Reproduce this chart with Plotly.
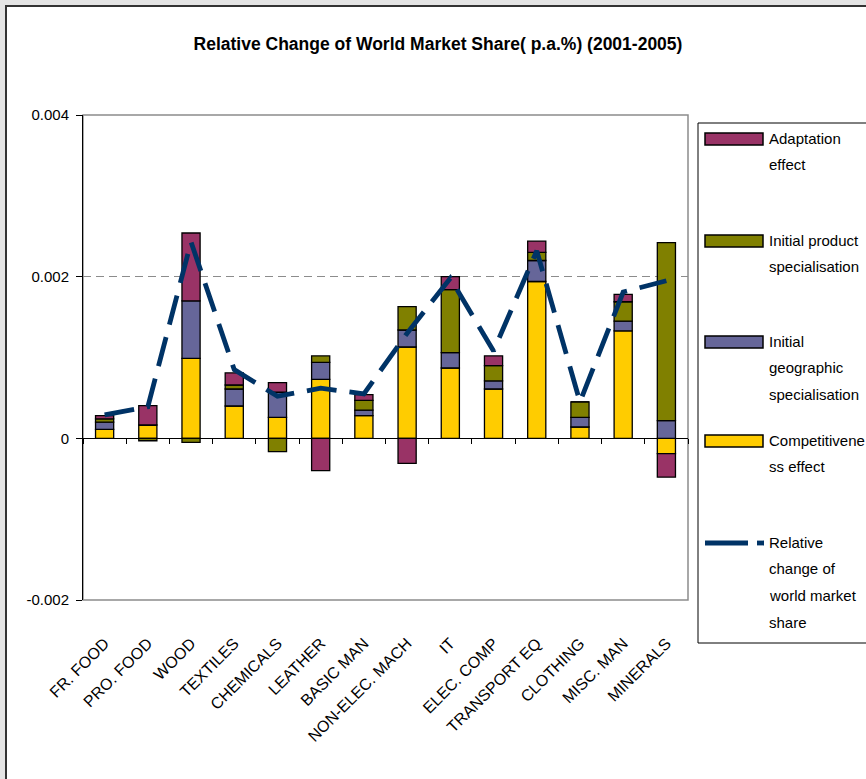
import plotly.graph_objects as go

categories = ["FR. FOOD", "PRO. FOOD", "WOOD", "TEXTILES", "CHEMICALS", "LEATHER",
              "BASIC MAN", "NON-ELEC. MACH", "IT", "ELEC. COMP", "TRANSPORT EQ",
              "CLOTHING", "MISC. MAN", "MINERALS"]

competitiveness = [0.00011, 0.000165, 0.00099, 0.00040, 0.00026, 0.00073, 0.00028,
                   0.00113, 0.00087, 0.00061, 0.00194, 0.00014, 0.00133, -0.00019]
geographic = [0.00009, 0.0, 0.00071, 0.00021, 0.00031, 0.00021, 0.00007,
              0.00021, 0.00019, 0.00010, 0.00026, 0.00012, 0.00012, 0.00022]
product = [0.00004, -0.00003, -0.00005, 0.00005, -0.000165, 0.00008, 0.00012,
           0.00029, 0.00078, 0.00019, 0.00010, 0.00019, 0.00024, 0.00220]
adaptation = [0.00004, 0.00024, 0.00084, 0.00015, 0.00012, -0.00040, 0.00007,
              -0.00031, 0.00016, 0.00012, 0.00014, 0.0, 0.00009, -0.00029]
relative_change = [0.00029, 0.00039, 0.00243, 0.00085, 0.00052, 0.00062, 0.00055,
                   0.00130, 0.00198, 0.00108, 0.00232, 0.00045, 0.00181, 0.00195]

y_tickvals = [-0.002, 0, 0.002, 0.004]
y_ticktext = ["-0.002", "0", "0.002", "0.004"]

title_text = "Relative Change of World Market Share( p.a.%) (2001-2005)"

series_names = ["Adaptation effect", "Initial product specialisation",
                "Initial geographic specialisation", "Competitiveness effect",
                "Relative change of world market share"]
legend_lines = [["Adaptation", "effect"],
                ["Initial product", "specialisation"],
                ["Initial", "geographic", "specialisation"],
                ["Competitivene", "ss effect"],
                ["Relative", "change of", "world market", "share"]]

C_ADAPT = "#993366"
C_PROD = "#808000"
C_GEO = "#666699"
C_COMP = "#FFCC00"
C_LINE = "#003366"

FONT = "Liberation Sans, Arial, sans-serif"

W, H = 866, 779
L, R, T, B = 83, 178, 115, 179
PW, PH = W - L - R, H - T - B


def px_x(p):
    return (p - L) / PW


def px_y(p):
    return (H - B - p) / PH


fig = go.Figure()
bar_line = dict(color="black", width=1.3)
for vals, name, col in [(competitiveness, series_names[3], C_COMP),
                        (geographic, series_names[2], C_GEO),
                        (product, series_names[1], C_PROD),
                        (adaptation, series_names[0], C_ADAPT)]:
    fig.add_trace(go.Bar(x=categories, y=vals, name=name,
                         marker=dict(color=col, line=bar_line),
                         showlegend=False))

# the line is drawn on the bottom (labelled) category axis, which shares the range
fig.add_trace(go.Scatter(x=categories, y=relative_change, mode="lines",
                         name=series_names[4], xaxis="x2", yaxis="y",
                         line=dict(color=C_LINE, width=4.8, dash="30px,13px"),
                         showlegend=False))

shapes = []
# outer chart frame (white area over a grey page)
shapes.append(dict(type="rect", xref="paper", yref="paper", layer="below",
                   x0=px_x(6), x1=px_x(W + 20), y0=px_y(6), y1=px_y(H + 20),
                   fillcolor="white", line=dict(width=0)))
# plot area frame
shapes.append(dict(type="rect", xref="paper", yref="paper", layer="below",
                   x0=0, x1=1, y0=0, y1=1, fillcolor="white",
                   line=dict(color="#8c8c8c", width=1.5)))
# outer frame border lines (top and left)
shapes.append(dict(type="line", xref="paper", yref="paper", layer="above",
                   x0=px_x(5), x1=px_x(W + 20), y0=px_y(6), y1=px_y(6),
                   line=dict(color="#333333", width=2)))
shapes.append(dict(type="line", xref="paper", yref="paper", layer="above",
                   x0=px_x(6), x1=px_x(6), y0=px_y(5), y1=px_y(H + 20),
                   line=dict(color="#333333", width=2)))
# legend box
shapes.append(dict(type="rect", xref="paper", yref="paper", layer="above",
                   x0=px_x(698), x1=px_x(W + 20), y0=px_y(123), y1=px_y(643),
                   fillcolor="rgba(0,0,0,0)", line=dict(color="black", width=1)))

annotations = []
entry_tops = [138, 240, 341, 440, 542]
line_step = 26.8
sw_colors = [C_ADAPT, C_PROD, C_GEO, C_COMP]
for i, lines in enumerate(legend_lines):
    y0 = entry_tops[i]
    if i < 4:
        shapes.append(dict(type="rect", xref="paper", yref="paper", layer="above",
                           x0=px_x(705), x1=px_x(763), y0=px_y(y0 - 5), y1=px_y(y0 + 7),
                           fillcolor=sw_colors[i], line=dict(color="black", width=1.5)))
    else:
        shapes.append(dict(type="line", xref="paper", yref="paper", layer="above",
                           x0=px_x(705), x1=px_x(748), y0=px_y(y0 + 1), y1=px_y(y0 + 1),
                           line=dict(color=C_LINE, width=4.8)))
        shapes.append(dict(type="line", xref="paper", yref="paper", layer="above",
                           x0=px_x(757), x1=px_x(764), y0=px_y(y0 + 1), y1=px_y(y0 + 1),
                           line=dict(color=C_LINE, width=4.8)))
    for j, txt in enumerate(lines):
        annotations.append(dict(text=txt, xref="paper", yref="paper",
                                x=px_x(767), y=px_y(y0 + j * line_step),
                                xanchor="left", yanchor="middle", showarrow=False,
                                font=dict(family=FONT, size=15, color="black")))

fig.update_layout(
    width=W, height=H,
    margin=dict(l=L, r=R, t=T, b=B, pad=0),
    paper_bgcolor="#e4e4e4",
    plot_bgcolor="white",
    barmode="relative",
    bargap=0.58,
    showlegend=False,
    font=dict(family=FONT, size=15, color="black"),
    title=dict(text="<b>" + title_text + "</b>", xref="paper", x=px_x(438),
               xanchor="center", yref="container", y=1 - 44 / H, yanchor="middle",
               font=dict(family=FONT, size=17.5, color="black")),
    xaxis=dict(type="category", range=[-0.5, 13.5], anchor="free", position=1 / 3,
               showline=True, linecolor="black", linewidth=1,
               ticks="outside", ticklen=5, tickcolor="black", tickson="boundaries",
               showticklabels=False, showgrid=False, zeroline=False),
    xaxis2=dict(overlaying="x", anchor="y", side="bottom", type="category",
                range=[-0.5, 13.5], categoryorder="array", categoryarray=categories,
                tickangle=-45, ticks="", showline=False,
                showgrid=False, zeroline=False, ticklabelstandoff=30,
                tickfont=dict(family=FONT, size=16, color="black")),
    yaxis=dict(range=[-0.002, 0.004], tickmode="array", tickvals=y_tickvals,
               ticktext=y_ticktext, showline=True, linecolor="black", linewidth=1,
               ticks="outside", ticklen=6, tickcolor="black", ticklabelstandoff=4,
               showgrid=True, gridcolor="#8c8c8c", gridwidth=1, griddash="8px,5px",
               zeroline=False, tickfont=dict(family=FONT, size=15, color="black")),
    shapes=shapes,
    annotations=annotations,
)

fig.write_html("out.html", config={"displayModeBar": False},
               post_script="document.body.style.margin='0';document.body.style.padding='0';")
